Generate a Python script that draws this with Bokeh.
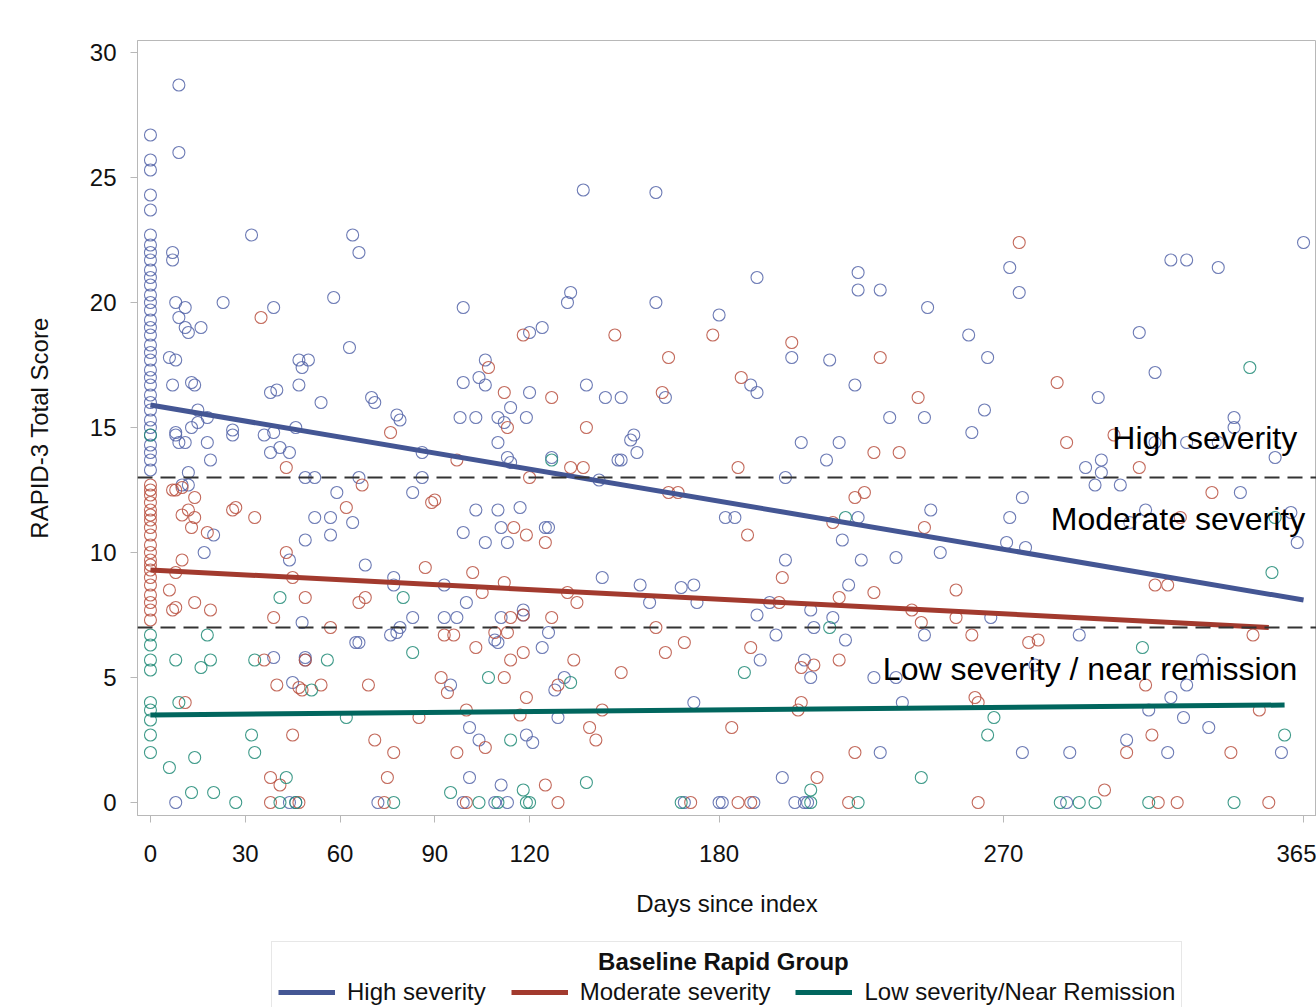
from bokeh.plotting import figure
from bokeh.layouts import column
from bokeh.models import Span, Label, Legend, LegendItem, FixedTicker, Range1d
from bokeh.embed import file_html
from bokeh.resources import INLINE

FONT = "Liberation Sans"

# ---------------- data ----------------
x_ticks = [0, 30, 60, 90, 120, 180, 270, 365]
y_ticks = [0, 5, 10, 15, 20, 25, 30]

group_names = ["High severity", "Moderate severity", "Low severity/Near Remission"]
legend_title = "Baseline Rapid Group"

high_day0_scores = [26.7, 25.7, 25.3, 24.3, 23.7, 22.7, 22.3, 22.0, 21.7, 21.3, 21.0, 20.7, 20.3, 20.0,
                    19.7, 19.3, 19.0, 18.7, 18.3, 18.0, 17.7, 17.3, 17.0, 16.7, 16.3, 16.0, 15.7, 15.3,
                    15.0, 14.7, 14.3, 14.0, 13.7, 13.3]
high_points = [
    (9, 28.7), (9, 26.0), (32, 22.7), (64, 22.7), (66, 22.0), (7, 22.0), (7, 21.7), (8, 20.0), (11, 19.8),
    (23, 20.0), (39, 19.8), (58, 20.2), (9, 19.4), (11, 19.0), (12, 18.8), (16, 19.0), (6, 17.8), (8, 17.7),
    (47, 17.7), (50, 17.7), (48, 17.4), (63, 18.2), (7, 16.7), (13, 16.8), (14, 16.7), (38, 16.4), (40, 16.5),
    (47, 16.7), (54, 16.0), (70, 16.2), (71, 16.0), (78, 15.5), (79, 15.3), (15, 15.7), (13, 15.0), (15, 15.2),
    (18, 15.4), (8, 14.8), (8, 14.7), (9, 14.4), (11, 14.4), (18, 14.4), (19, 13.7), (26, 14.9), (26, 14.7),
    (36, 14.7), (39, 14.8), (38, 14.0), (41, 14.2), (44, 14.0), (46, 15.0), (12, 13.2), (10, 12.7), (12, 12.7),
    (49, 13.0), (52, 13.0), (66, 13.0), (86, 13.0), (86, 14.0), (59, 12.4), (83, 12.4), (52, 11.4), (57, 11.4),
    (64, 11.2), (49, 10.5), (57, 10.7), (20, 10.7), (17, 10.0), (44, 9.7), (68, 9.5), (77, 9.0), (77, 8.7),
    (48, 7.2), (83, 7.4), (76, 6.7), (78, 6.8), (79, 7.0), (65, 6.4), (66, 6.4), (39, 5.8), (49, 5.8), (49, 5.7),
    (45, 4.8), (8, 0), (44, 0), (46, 0), (72, 0),
    (137, 24.5), (160, 24.4), (99, 19.8), (192, 21.0), (224, 21.2), (224, 20.5), (231, 20.5), (246, 19.8),
    (272, 21.4), (275, 20.4), (160, 20.0), (133, 20.4), (132, 20.0), (120, 18.8), (124, 19.0), (180, 19.5),
    (259, 18.7), (265, 17.8), (203, 17.8), (215, 17.7), (223, 16.7), (106, 17.7), (104, 17.0), (106, 16.7),
    (99, 16.8), (120, 16.4), (138, 16.7), (144, 16.2), (149, 16.2), (163, 16.2), (190, 16.7), (192, 16.4),
    (114, 15.8), (98, 15.4), (103, 15.4), (110, 15.4), (112, 15.2), (119, 15.4), (234, 15.4), (245, 15.4),
    (264, 15.7), (260, 14.8), (110, 14.4), (152, 14.5), (153, 14.7), (154, 14.0), (206, 14.4), (218, 14.4),
    (214, 13.7), (113, 13.8), (114, 13.6), (127, 13.8), (148, 13.7), (149, 13.7), (142, 12.9), (201, 13.0),
    (103, 11.7), (110, 11.7), (117, 11.8), (99, 10.8), (111, 11.0), (106, 10.4), (113, 10.4), (125, 11.0),
    (126, 11.0), (143, 9.0), (155, 8.7), (168, 8.6), (172, 8.7), (158, 8.0), (173, 8.0), (93, 8.7), (100, 8.0),
    (93, 7.4), (97, 7.4), (111, 7.4), (118, 7.7), (118, 7.5), (126, 6.8), (109, 6.5), (110, 6.4), (124, 6.2),
    (131, 5.0), (128, 4.5), (95, 4.7), (172, 4.0), (129, 3.4), (101, 3.0), (104, 2.5), (119, 2.7), (121, 2.4),
    (101, 1.0), (111, 0.7), (99, 0), (109, 0), (113, 0), (169, 0), (180, 0),
    (182, 11.4), (185, 11.4), (224, 11.4), (247, 11.7), (219, 10.5), (250, 10.0), (236, 9.8), (225, 9.7),
    (201, 9.7), (271, 10.4), (272, 11.4), (221, 8.7), (196, 8.0), (192, 7.5), (209, 7.7), (210, 7.0), (216, 7.4),
    (266, 7.4), (198, 6.7), (220, 6.5), (245, 6.7), (193, 5.7), (207, 5.7), (209, 5.0), (229, 5.0), (236, 5.0),
    (238, 4.0), (231, 2.0), (200, 1.0), (181, 0), (191, 0), (204, 0), (207, 0), (208, 0),
    (365, 22.4), (323, 21.7), (328, 21.7), (338, 21.4), (313, 18.8), (318, 17.2), (300, 16.2), (343, 15.4),
    (343, 15.0), (318, 14.4), (328, 14.4), (338, 14.4), (356, 13.8), (296, 13.4), (301, 13.7), (301, 13.2),
    (299, 12.7), (307, 12.7), (345, 12.4), (276, 12.2), (315, 11.7), (310, 11.2), (361, 11.6), (277, 10.2),
    (363, 10.4),
    (294, 6.7), (333, 5.7), (280, 5.5), (328, 4.7), (323, 4.2), (316, 3.7), (327, 3.4), (335, 3.0), (309, 2.5),
    (276, 2.0), (291, 2.0), (322, 2.0), (358, 2.0), (290, 0),
]

mod_day0_scores = [12.7, 12.5, 12.3, 12.0, 11.7, 11.5, 11.3, 11.0, 10.7, 10.3, 10.0, 9.7, 9.5, 9.3, 9.0,
                   8.7, 8.3, 8.0, 7.7, 7.3]
mod_points = [
    (35, 19.4), (76, 14.8), (43, 13.4), (67, 12.7), (7, 12.5), (8, 12.5), (10, 12.6), (14, 12.2), (12, 11.7),
    (10, 11.5), (14, 11.4), (13, 11.0), (26, 11.7), (27, 11.8), (33, 11.4), (62, 11.8), (18, 10.8), (89, 12.0),
    (43, 10.0), (45, 9.0), (10, 9.7), (8, 9.2), (6, 8.5), (87, 9.4), (7, 7.7), (8, 7.8), (14, 8.0), (19, 7.7),
    (49, 8.2), (66, 8.0), (68, 8.2), (39, 7.4), (57, 7.0), (36, 5.7), (49, 5.7), (40, 4.7), (47, 4.6), (48, 4.5),
    (54, 4.7), (69, 4.7), (11, 4.0), (85, 3.4), (45, 2.7), (71, 2.5), (77, 2.0), (38, 1.0), (41, 0.7), (75, 1.0),
    (38, 0), (47, 0), (74, 0),
    (118, 18.7), (147, 18.7), (178, 18.7), (203, 18.4), (231, 17.8), (164, 17.8), (275, 22.4), (107, 17.4),
    (187, 17.0), (112, 16.4), (127, 16.2), (162, 16.4), (243, 16.2), (113, 15.0), (138, 15.0), (229, 14.0),
    (237, 14.0), (97, 13.7), (133, 13.4), (137, 13.4), (186, 13.4), (120, 13.0), (164, 12.4), (167, 12.4),
    (223, 12.2), (226, 12.4), (90, 12.1),
    (115, 11.0), (119, 10.7), (125, 10.4), (102, 9.2), (112, 8.8), (105, 8.4), (132, 8.4), (135, 8.0),
    (114, 7.4), (118, 7.5), (127, 7.4), (109, 6.8), (113, 6.8), (93, 6.7), (96, 6.7), (160, 7.0), (103, 6.2),
    (118, 6.0), (163, 6.0), (169, 6.4), (114, 5.7), (134, 5.7), (149, 5.2), (92, 5.0), (94, 4.4), (112, 5.0),
    (129, 4.7), (119, 4.2), (100, 3.7), (117, 3.5), (143, 3.7), (139, 3.0), (141, 2.5), (106, 2.2), (97, 2.0),
    (125, 0.7), (100, 0), (129, 0), (171, 0),
    (216, 11.2), (245, 11.0), (189, 10.7), (200, 9.0), (199, 8.0), (218, 8.2), (229, 8.4), (255, 8.5),
    (241, 7.7), (244, 7.2), (255, 7.4), (260, 6.7), (190, 6.2), (206, 5.4), (210, 5.5), (218, 5.7), (206, 4.0),
    (205, 3.7), (261, 4.2), (262, 4.0), (184, 3.0), (223, 2.0), (211, 1.0), (186, 0), (190, 0), (221, 0), (262, 0),
    (287, 16.8), (290, 14.4), (305, 14.7), (313, 13.4), (336, 12.4), (326, 11.4), (318, 8.7), (322, 8.7),
    (278, 6.4), (281, 6.5), (349, 6.7), (315, 4.7), (351, 3.7), (317, 2.7), (309, 2.0), (342, 2.0), (302, 0.5),
    (319, 0), (325, 0), (354, 0),
]

low_day0_scores = [14.7, 6.7, 6.3, 5.7, 5.3, 4.0, 3.7, 3.3, 2.7, 2.0]
low_points = [
    (41, 8.2), (80, 8.2), (18, 6.7), (8, 5.7), (19, 5.7), (16, 5.4), (33, 5.7), (56, 5.7), (83, 6.0), (51, 4.5),
    (9, 4.0), (62, 3.4), (32, 2.7), (33, 2.0), (14, 1.8), (6, 1.4), (43, 1.0), (13, 0.4), (20, 0.4), (27, 0),
    (41, 0), (46, 0), (77, 0), (127, 13.7),
    (107, 5.0), (133, 4.8), (114, 2.5), (138, 0.8), (95, 0.4), (118, 0.5), (104, 0), (110, 0), (119, 0),
    (120, 0), (168, 0),
    (220, 11.4), (215, 7.0), (188, 5.2), (267, 3.4), (265, 2.7), (244, 1.0), (209, 0.5), (209, 0), (224, 0),
    (348, 17.4), (355, 9.2), (356, 11.4),
    (314, 6.2), (359, 2.7), (288, 0), (294, 0), (299, 0), (316, 0), (343, 0),
]

# fitted regression lines
high_fit_days = [0, 365]
high_fit_scores = [15.9, 8.1]
mod_fit_days = [0, 354]
mod_fit_scores = [9.3, 7.0]
low_fit_days = [0, 359]
low_fit_scores = [3.5, 3.9]

# cut-offs and region labels
cutoffs = [7, 13]
region_labels = ["High severity", "Moderate severity", "Low severity / near remission"]
region_label_x = [363, 365.5, 363]
region_label_y = [14.6, 11.35, 5.35]

# ---------------- styling ----------------
blue, red, teal = "#445694", "#A23A2E", "#01665E"
mk_blue, mk_red, mk_teal = "#5464a8", "#b8503f", "#1f8a76"

p = figure(frame_width=1179, frame_height=775,
           x_range=Range1d(-4.1, 369.1), y_range=Range1d(-0.52, 30.48),
           output_backend="svg", toolbar_location=None,
           min_border_left=137, min_border_top=40, min_border_right=0, min_border_bottom=120)
p.background_fill_color = "white"
p.border_fill_color = "white"
p.outline_line_color = "#b8b8b8"
p.xgrid.visible = False
p.ygrid.visible = False


def unzip(points, day0):
    xs = [0] * len(day0) + [d for d, _ in points]
    ys = list(day0) + [s for _, s in points]
    return xs, ys


for pts, d0, col in [(high_points, high_day0_scores, mk_blue),
                     (mod_points, mod_day0_scores, mk_red),
                     (low_points, low_day0_scores, mk_teal)]:
    xs, ys = unzip(pts, d0)
    p.scatter(xs, ys, marker="circle", size=12, fill_color=None, line_color=col, line_alpha=0.85,
              line_width=1.1)

for v in cutoffs:
    p.add_layout(Span(location=v, dimension="width", line_color="#333333", line_width=2,
                      line_dash="15 8"))

fits = [(high_fit_days, high_fit_scores, blue),
        (mod_fit_days, mod_fit_scores, red),
        (low_fit_days, low_fit_scores, teal)]
for fx, fy, col in fits:
    p.line(fx, fy, line_color=col, line_width=5)

for t, x, y in zip(region_labels, region_label_x, region_label_y):
    p.add_layout(Label(x=x, y=y, text=t, text_align="right", text_baseline="middle",
                       text_font=FONT, text_font_size="32px", text_color="black"))

# axes
for ax in (p.xaxis[0], p.yaxis[0]):
    ax.axis_line_color = "#b8b8b8"
    ax.major_tick_line_color = "#b8b8b8"
    ax.major_tick_out = 7
    ax.major_tick_in = 0
    ax.minor_tick_line_color = None
    ax.major_label_text_font = FONT
    ax.major_label_text_font_size = "24px"
    ax.major_label_text_color = "#111111"
    ax.axis_label_text_font = FONT
    ax.axis_label_text_font_size = "24px"
    ax.axis_label_text_font_style = "normal"
    ax.axis_label_text_color = "#111111"

p.xaxis.ticker = FixedTicker(ticks=x_ticks)
p.yaxis.ticker = FixedTicker(ticks=y_ticks)
p.xaxis.axis_label = "Days since index"
p.yaxis.axis_label = "RAPID-3 Total Score"
p.xaxis.major_label_standoff = 22
p.xaxis.axis_label_standoff = 25
p.yaxis.major_label_standoff = 14
p.yaxis.axis_label_standoff = 34

# ---------------- legend strip (separate figure under the chart) ----------------
# its y-range lies outside the data, so the fit lines only feed the legend glyphs
q = figure(width=1316, height=72, x_range=Range1d(0, 1), y_range=Range1d(100, 101),
           x_axis_location=None, y_axis_location=None,
           output_backend="svg", toolbar_location=None, min_border=0)
q.xgrid.visible = False
q.ygrid.visible = False
q.outline_line_color = None
q.background_fill_color = "white"
q.border_fill_color = "white"

lg_renderers = [q.line(fx, fy, line_color=col, line_width=5) for fx, fy, col in fits]

# title padded with no-break spaces so it sits centred over the items
legend = Legend(items=[LegendItem(label=name, renderers=[r]) for name, r in zip(group_names, lg_renderers)],
                orientation="horizontal", location=(134, -6),
                title="\u00a0" * 48 + legend_title, title_text_font=FONT, title_text_font_size="24px",
                title_text_font_style="bold", title_text_color="#111111", title_standoff=2,
                label_text_font=FONT, label_text_font_size="24px", label_text_color="#111111",
                glyph_width=57, glyph_height=24, label_standoff=12, spacing=25, padding=6,
                border_line_color="#d0d0d0", border_line_width=1, margin=0,
                background_fill_color="white", background_fill_alpha=1)
q.add_layout(legend, "center")

layout = column(p, q, spacing=0)
open("out.html", "w").write(file_html(layout, INLINE))
